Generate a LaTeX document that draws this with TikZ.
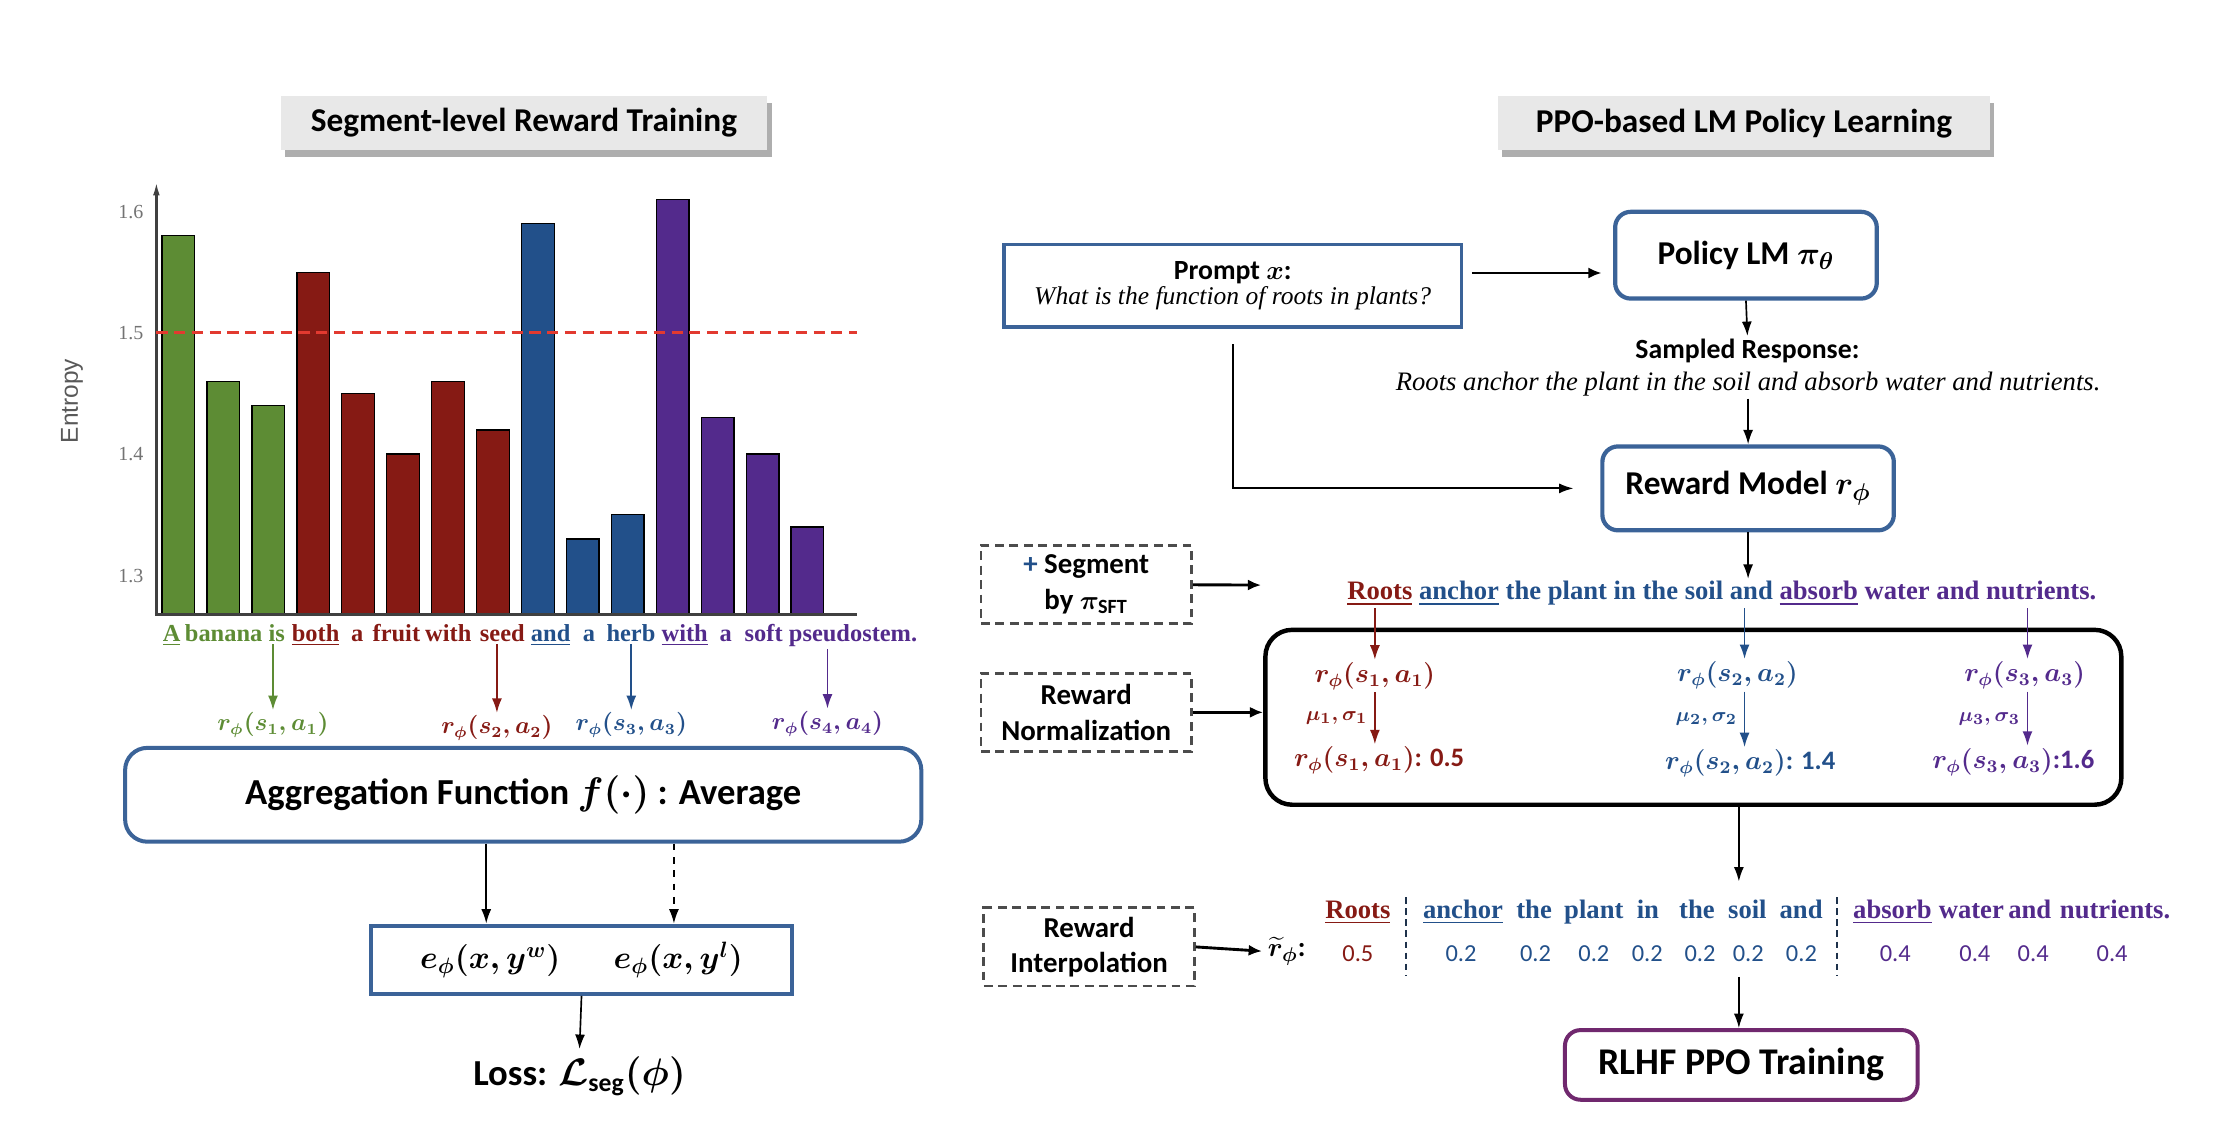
\documentclass[tikz,border=0pt]{standalone}
\usepackage{fontspec}
\usepackage{amsmath}
\usepackage{bm}
\setmainfont{Carlito}
\newfontfamily\tnr{Liberation Serif}
\newfontfamily\lsans{Liberation Sans}
\usetikzlibrary{arrows.meta,shadows}

\definecolor{sgreen}{RGB}{93,140,52}
\definecolor{sred}{RGB}{134,26,20}
\definecolor{sblue}{RGB}{34,80,138}
\definecolor{spurple}{RGB}{83,42,140}
\definecolor{boxblue}{RGB}{59,99,152}
\definecolor{rlhfpurple}{RGB}{112,40,110}
\definecolor{sepnavy}{RGB}{30,50,75}
\definecolor{thresh}{RGB}{226,58,48}

\newcommand\upx{0.0225cm}

\tikzset{
	arr/.style={-{Latex[length=6.5pt,width=4.5pt]}, line width=0.75pt},
	fatarr/.style={-{Latex[length=6pt,width=5pt]}, line width=1.3pt},
	titlebox/.style={fill=black!9, font=\bfseries\fontsize{15}{18}\selectfont, minimum height=38*\upx,
		drop shadow={shadow xshift=2pt, shadow yshift=-3pt, fill=black!45, opacity=0.7}},
	bluebox/.style={draw=boxblue, line width=1.6pt, fill=white, align=center},
	roundbox/.style={bluebox, rounded corners=7pt},
	dashbox/.style={draw=black!70, line width=1.3pt, dash pattern=on 4pt off 2.5pt, align=center,
		font=\bfseries\boldmath\fontsize{13}{16}\selectfont, minimum width=148*\upx, minimum height=55*\upx, inner sep=1pt},
	bar/.style={draw=black, line width=0.6pt},
	word/.style={font=\tnr\bfseries\fontsize{11}{13}\selectfont, anchor=base, inner sep=1pt},
	iword/.style={font=\tnr\bfseries\fontsize{12}{14}\selectfont, anchor=base, inner sep=1pt},
	ival/.style={font=\fontsize{11}{13}\selectfont, inner sep=1pt},
	slab/.style={font=\boldmath\fontsize{10.5}{12}\selectfont, inner sep=1pt},
	nlab/.style={font=\bfseries\boldmath\fontsize{12}{14}\selectfont, inner sep=1pt},
	tick/.style={font=\tnr\fontsize{9}{10}\selectfont, text=black!55}
}

\begin{document}
\begin{tikzpicture}[x=0.0225cm, y=-0.0225cm]
	\useasboundingbox (0,0) rectangle (1560,792);

	\node[titlebox, minimum width=342*\upx] (lefttitle) at (368.5,86.5) {Segment-level Reward Training};
	\node[titlebox, minimum width=346*\upx] (righttitle) at (1226.6,86.8) {PPO-based LM Policy Learning};

	\foreach \h/\c [count=\i from 0] in {1.58/sgreen, 1.46/sgreen, 1.44/sgreen, 1.55/sred, 1.45/sred,
		1.40/sred, 1.46/sred, 1.42/sred, 1.59/sblue, 1.33/sblue, 1.35/sblue, 1.61/spurple, 1.43/spurple,
		1.40/spurple, 1.34/spurple}
		\draw[bar, fill=\c] ({114+31.6*\i},432) rectangle ++(23,{-(\h-1.268)*853});
	\draw[line width=1pt, black!75, -{Latex[length=6pt,width=3pt]}] (110,433) -- (110,128);
	\draw[line width=1.4pt, black!75] (109,432) -- (603,432);
	\draw[thresh, line width=1.3pt, dash pattern=on 5pt off 3pt] (110,234) -- (603,234);
	\foreach \t/\y [count=\i] in {1.6/149, 1.5/234, 1.4/319, 1.3/405}
		\node[tick] (tk\i) at (92,\y) {\t};
	\node[rotate=90, font=\lsans\fontsize{11}{13}\selectfont, text=black!65] (ylab) at (50.6,282) {Entropy};

	\foreach \w/\x/\c [count=\i] in {\underline{A}/120.7/sgreen, banana/157.3/sgreen, is/194.6/sgreen,
		\underline{both}/222/sred, a/251.3/sred, fruit/278.8/sred, with/315.3/sred, seed/353.3/sred,
		\underline{and}/387.3/sblue, a/414.3/sblue, herb/443.8/sblue, \underline{with}/481.6/spurple,
		a/510.4/spurple, soft/537.1/spurple, pseudostem./600/spurple}
		\node[word, text=\c] (lw\i) at (\x,451) {\w};

	\node[slab, text=sgreen] (lr1) at (192,510) {$\bm{r_{\phi}(s_1,a_1)}$};
	\node[slab, text=sred] (lr2) at (349.5,512) {$\bm{r_{\phi}(s_2,a_2)}$};
	\node[slab, text=sblue] (lr3) at (444,510) {$\bm{r_{\phi}(s_3,a_3)}$};
	\node[slab, text=spurple] (lr4) at (582,509) {$\bm{r_{\phi}(s_4,a_4)}$};
	\draw[arr, sgreen] (lr1.north |- lw3.south) -- (lr1.north);
	\draw[arr, sred] (lr2.north |- lw8.south) -- (lr2.north);
	\draw[arr, sblue] (lr3.north |- lw11.south) -- (lr3.north);
	\draw[arr, spurple] (lr4.north |- lw15.south) -- (lr4.north);

	\node[roundbox, rounded corners=10pt, line width=1.8pt, minimum width=560*\upx, minimum height=66*\upx,
		font=\bfseries\boldmath\fontsize{16.5}{19}\selectfont] (agg) at (368,559) {Aggregation Function $\bm{f(\cdot)}$ : Average};
	\node[bluebox, line width=1.8pt, minimum width=296*\upx, minimum height=48*\upx,
		font=\boldmath\fontsize{14}{16}\selectfont] (ebox) at (409,675) {$\bm{e_{\phi}(x,y^{w})}$\hspace{24pt}$\bm{e_{\phi}(x,y^{l})}$};
	\node[font=\bfseries\boldmath\fontsize{16.5}{19}\selectfont] (loss) at (407.6,757) {Loss: $\bm{\mathcal{L}}_{\mathrm{seg}}(\bm{\phi})$};
	\draw[arr] ([xshift=-67*\upx]ebox.north |- agg.south) -- ([xshift=-67*\upx]ebox.north);
	\draw[arr, dashed] ([xshift=65*\upx]ebox.north |- agg.south) -- ([xshift=65*\upx]ebox.north);
	\draw[arr] (ebox.south) -- (loss.north);

	\node[bluebox, minimum width=322*\upx, minimum height=58*\upx, inner sep=2pt] (prompt) at (867,201)
		{{\bfseries\boldmath\fontsize{12.5}{15}\selectfont Prompt $\bm{x}$:}\\[-1pt]{\tnr\itshape\fontsize{11.5}{14}\selectfont What is the function of roots in plants?}};
	\node[roundbox, line width=1.9pt, minimum width=184*\upx, minimum height=61*\upx,
		font=\bfseries\boldmath\fontsize{15}{18}\selectfont] (policy) at (1228,179.5) {Policy LM $\bm{\pi_{\theta}}$};
	\node[font=\bfseries\fontsize{12.5}{15}\selectfont, inner sep=1pt] (samp) at (1229,246.6) {Sampled Response:};
	\node[font=\tnr\itshape\fontsize{12}{14}\selectfont, inner sep=1pt] (resp) at (1229.5,270)
		{Roots anchor the plant in the soil and absorb water and nutrients.};
	\node[roundbox, line width=1.9pt, minimum width=205*\upx, minimum height=59*\upx,
		font=\bfseries\boldmath\fontsize{15}{18}\selectfont] (reward) at (1229.5,343.5) {Reward Model $\bm{r_{\phi}}$};
	\draw[fatarr] ([shift={(6,-9)}]prompt.east) -- ([shift={(-8,-9)}]policy.west |- prompt.east);
	\draw[arr] (policy.south) -- (samp.north);
	\draw[arr] (resp.south) -- (reward.north);
	\draw[arr, line width=0.9pt] ([yshift=-7pt]prompt.south) |- ([xshift=-12pt]reward.west);

	\node[dashbox] (dseg) at (764,411) {{\color{sblue}+} Segment\\by $\bm{\pi}_{\mathrm{SFT}}$};
	\node[dashbox] (dnorm) at (764,501) {Reward\\Normalization};
	\node[dashbox] (dinterp) at (766,666) {Reward\\Interpolation};

	\node[iword, font=\tnr\bfseries\fontsize{12}{14}\selectfont] (seg) at (1211,422)
		{\textcolor{sred}{\underline{Roots}} \textcolor{sblue}{\underline{anchor} the plant in the soil and}
		\textcolor{spurple}{\underline{absorb} water and nutrients.}};
	\coordinate (segtip) at (887,411.5);
	\draw[arr] (reward.south) -- (reward.south |- seg.north);
	\draw[fatarr] (dseg) -- (segtip);

	\node[draw=black, line width=2pt, rounded corners=12pt, minimum width=602*\upx, minimum height=123*\upx] (normbox) at (1191,504.5) {};
	\draw[fatarr] (dnorm.east) -- (normbox.west |- dnorm.east);

	\node[nlab, text=sred] (nr1) at (967,475.5) {$\bm{r_{\phi}(s_1,a_1)}$};
	\node[nlab, text=sblue] (nr2) at (1222,475) {$\bm{r_{\phi}(s_2,a_2)}$};
	\node[nlab, text=spurple] (nr3) at (1424,475) {$\bm{r_{\phi}(s_3,a_3)}$};
	\node[nlab, text=sred] (nv1) at (970,535) {$\bm{r_{\phi}(s_1,a_1)}$: 0.5};
	\node[nlab, text=sblue] (nv2) at (1231,537) {$\bm{r_{\phi}(s_2,a_2)}$: 1.4};
	\node[nlab, text=spurple] (nv3) at (1416,536) {$\bm{r_{\phi}(s_3,a_3)}$:1.6};
	\draw[arr, sred] (nr1.north |- seg.south) -- (nr1.north);
	\draw[arr, sblue] ([xshift=5*\upx]nr2.north |- seg.south) -- ([xshift=5*\upx]nr2.north);
	\draw[arr, spurple] ([xshift=2*\upx]nr3.north |- seg.south) -- ([xshift=2*\upx]nr3.north);
	\draw[arr, sred] (nr1) -- node[left, font=\boldmath\fontsize{9.5}{10}\selectfont, inner sep=3pt] {$\bm{\mu_1,\sigma_1}$} (nr1 |- nv1.north);
	\draw[arr, sblue] ([xshift=5*\upx]nr2.south) -- node[left, font=\boldmath\fontsize{9.5}{10}\selectfont, inner sep=3pt] {$\bm{\mu_2,\sigma_2}$} ([xshift=5*\upx]nr2.south |- nv2.north);
	\draw[arr, spurple] ([xshift=2*\upx]nr3.south) -- node[left, font=\boldmath\fontsize{9.5}{10}\selectfont, inner sep=3pt] {$\bm{\mu_3,\sigma_3}$} ([xshift=2*\upx]nr3.south |- nv3.north);

	\foreach \w/\x/\c [count=\i] in {\underline{Roots}/955/sred, \underline{anchor}/1029/sblue, the/1079/sblue,
		plant/1121/sblue, in/1159/sblue, the/1193.5/sblue, soil/1229/sblue, and/1266.8/sblue,
		\underline{absorb}/1331/spurple, water/1386.5/spurple, and/1427.6/spurple, nutrients./1487.6/spurple}
		\node[iword, text=\c] (iw\i) at (\x,646) {\w};
	\foreach \v/\x/\c [count=\i] in {0.5/955/sred, 0.2/1027.6/sblue, 0.2/1080/sblue, 0.2/1121/sblue,
		0.2/1158.6/sblue, 0.2/1195.7/sblue, 0.2/1229.6/sblue, 0.2/1267/sblue, 0.4/1333/spurple,
		0.4/1389/spurple, 0.4/1430/spurple, 0.4/1485.5/spurple}
		\node[ival, text=\c] (iv\i) at (\x,671) {\v};
	\foreach \x in {989,1292}
		\draw[sepnavy, line width=1pt, dash pattern=on 3pt off 2pt] (\x,631) -- (\x,686);
	\node[font=\bfseries\boldmath\fontsize{12.5}{15}\selectfont, inner sep=0.5pt] (rt) at (905,669) {$\widetilde{\bm{r}}_{\bm{\phi}}$:};
	\draw[fatarr] (dinterp.east) -- ([xshift=-2pt]rt.west);

	\node[draw=rlhfpurple, line width=1.8pt, rounded corners=7pt, minimum width=248*\upx, minimum height=49*\upx,
		font=\bfseries\fontsize{17}{20}\selectfont] (rlhf) at (1224.7,749) {RLHF PPO Training};
	\coordinate (itop) at (1223,620);
	\coordinate (ibot) at (1223,687);
	\draw[arr] (normbox.south -| itop) -- (itop);
	\draw[arr] (ibot) -- (rlhf.north -| ibot);
\end{tikzpicture}
\end{document}
